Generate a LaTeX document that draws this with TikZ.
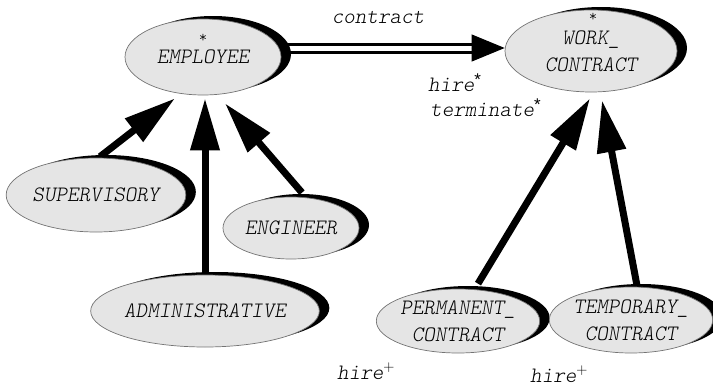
\documentclass[tikz,border=0pt]{standalone}
\usepackage{fontspec}
\newfontfamily\supfont{Liberation Sans}
\newcommand\cfont{\ttfamily\fontseries{l}\selectfont}
\newcommand\supstar{\raisebox{0.55ex}{\supfont\upshape\fontsize{17}{17}\selectfont *}}
\usetikzlibrary{shapes.geometric,arrows.meta,calc,shadows}
\pgfdeclarelayer{bg}
\pgfsetlayers{bg,main}
\begin{document}
\begin{tikzpicture}[x=1pt,y=-1pt,
  entity/.style={ellipse, draw=black!55, line width=0.7pt, fill=black!10,
    inner sep=0pt, align=center,
    font=\cfont\itshape\fontsize{22}{27}\selectfont,
    general shadow={fill=black, shadow xshift=10pt, shadow yshift=3pt}},
  lbl/.style={inner sep=0pt, font=\cfont\itshape\fontsize{22}{25}\selectfont},
  starmark/.style={inner sep=0pt, font=\cfont\fontsize{16}{16}\selectfont},
  isa/.style={line width=7pt, -{Triangle[length=52pt,width=28pt]}},
  dbl/.style={line width=3pt, double=white, double distance=5pt},
]
\useasboundingbox (0,0) rectangle (713,386);

% entity types
\node[entity, minimum width=156pt, minimum height=76pt] (emp) at (203,57) {EMPLOYEE};
\node[entity, minimum width=172pt, minimum height=82pt] (wc) at (591,51) {WORK\_\\CONTRACT};
\node[entity, minimum width=168pt, minimum height=74pt] (sup) at (96,195) {SUPERVISORY};
\node[entity, minimum width=136pt, minimum height=62pt] (eng) at (291,228) {ENGINEER};
\node[entity, minimum width=200pt, minimum height=72pt] (adm) at (205,311) {ADMINISTRATIVE};
\node[entity, minimum width=157pt, minimum height=64pt] (perm) at (458,321) {PERMANENT\_\\CONTRACT};
\node[entity, minimum width=152pt, minimum height=66pt] (temp) at (631,320) {TEMPORARY\_\\CONTRACT};

% multiplicity marks
\node[starmark] (empstar) at (203,38) {*};
\node[starmark] (wcstar) at (593,17) {*};

% labels
\node[lbl] (contract) at (378,17) {contract};
\node[lbl, anchor=base west] (hire1) at (428,91) {hire\supstar};
\node[lbl, anchor=base west] (term) at (430,116) {terminate\supstar};
\node[lbl, anchor=base west] (hire2) at (337,379) {hire\textsuperscript{\rmfamily\upshape +}};
\node[lbl, anchor=base west] (hire3) at (530,382) {hire\textsuperscript{\rmfamily\upshape +}};

% arrow end points on the supertypes
\coordinate (ctip) at ($(wc.west)+(0,-3)$);
\coordinate (tipS) at ($(emp.south)+(-28,3)$);
\coordinate (tipA) at ($(emp.south)+(2,3)$);
\coordinate (tipE) at ($(emp.south)+(22,8)$);
\coordinate (tipP) at ($(wc.south)+(-1,6)$);
\coordinate (tipT) at ($(wc.south)+(11,8)$);

\begin{pgfonlayer}{bg}
  % relationship
  \draw[dbl] (emp.east |- ctip) -- ($(ctip)+(-31,0)$);
  \draw[line width=1pt, -{Triangle[length=33pt,width=27pt]}] ($(ctip)+(-33,0)$) -- (ctip);
  % generalisations
  \draw[isa] ($(sup.north)+(4,-1)$) -- (tipS);
  \draw[isa] (adm.north) -- (tipA);
  \draw[isa] ($(eng.north)+(11,-4)$) -- (tipE);
  \draw[isa] ($(perm.north)+(20,-5)$) -- (tipP);
  \draw[isa] ($(temp.north)+(6,-1)$) -- (tipT);
\end{pgfonlayer}
\end{tikzpicture}
\end{document}
